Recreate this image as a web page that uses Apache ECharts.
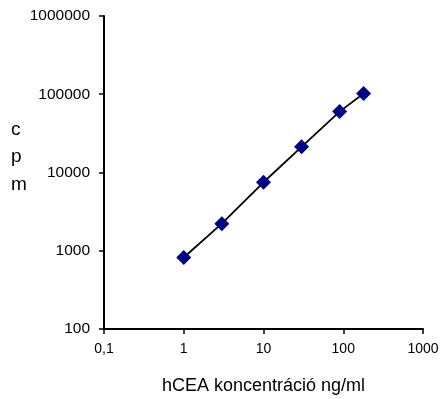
<!DOCTYPE html>
<html>
<head>
<meta charset="utf-8">
<script src="https://cdn.jsdelivr.net/npm/echarts@6/dist/echarts.min.js"></script>
<style>
  html, body { margin: 0; padding: 0; background: #fff; }
  #chart { width: 445px; height: 399px; }
</style>
</head>
<body>
<div id="chart"></div>
<script>
// hCEA standard curve (log-log)
const concentrations = [1, 3, 10, 30, 90, 180];      // ng/ml
const cpmValues = [820, 2220, 7500, 21300, 60000, 102000];
const xTicks = [0.1, 1, 10, 100, 1000];
const yTicks = [100, 1000, 10000, 100000, 1000000];

const chart = echarts.init(document.getElementById('chart'));

const font = 'Arial, "Liberation Sans", sans-serif';

chart.setOption({
  animation: false,
  backgroundColor: '#fff',
  grid: { left: 104, right: 22, top: 16, bottom: 70, containLabel: false, outerBoundsMode: 'none' },
  xAxis: {
    type: 'log',
    logBase: 10,
    min: xTicks[0],
    max: xTicks[xTicks.length - 1],
    name: 'hCEA koncentráció ng/ml',
    nameLocation: 'middle',
    nameGap: 48,
    nameTextStyle: { color: '#000', fontSize: 18, fontFamily: font },
    axisLine: { lineStyle: { color: '#000', width: 2 } },
    axisTick: { show: true, length: 5, inside: false, lineStyle: { color: '#000', width: 1.5 } },
    axisLabel: {
      color: '#000', fontSize: 14, fontFamily: font, margin: 13,
      formatter: v => String(v).replace('.', ',')
    },
    splitLine: { show: false },
    minorTick: { show: false }
  },
  yAxis: {
    type: 'log',
    logBase: 10,
    min: yTicks[0],
    max: yTicks[yTicks.length - 1],
    axisLine: { lineStyle: { color: '#000', width: 2 } },
    axisTick: { show: true, length: 5, inside: false, lineStyle: { color: '#000', width: 1.5 } },
    axisLabel: { color: '#000', fontSize: 15.5, fontFamily: font, margin: 14, formatter: v => String(v) },
    splitLine: { show: false }
  },
  graphic: [{
    type: 'text',
    left: 11,
    top: 116,
    style: {
      text: 'c\np\nm',
      fill: '#000',
      font: '19px ' + font,
      lineHeight: 27.5
    }
  }],
  series: [{
    type: 'line',
    data: concentrations.map((c, i) => [c, cpmValues[i]]),
    symbol: 'diamond',
    symbolSize: 15,
    showAllSymbol: true,
    itemStyle: { color: '#000080' },
    lineStyle: { color: '#000', width: 1.8 }
  }]
});
</script>
</body>
</html>
